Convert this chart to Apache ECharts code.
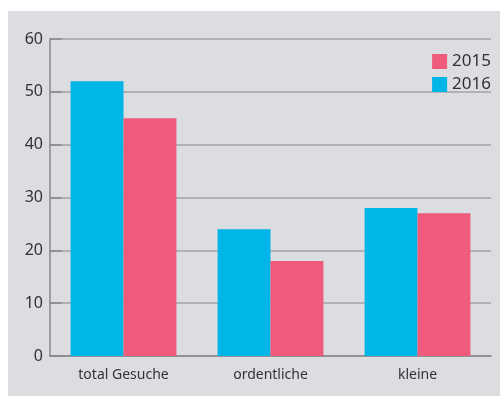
<!DOCTYPE html>
<html>
<head>
<meta charset="utf-8">
<script src="https://cdn.jsdelivr.net/npm/echarts@6/dist/echarts.min.js"></script>
<style>
  html, body { margin: 0; padding: 0; background: #ffffff; }
  #chart { position: absolute; left: 8px; top: 11px; width: 492px; height: 385px; background: #dcdde0; }
</style>
</head>
<body>
<div id="chart"></div>
<script>
// Chart data
const categories = ['total Gesuche', 'ordentliche', 'kleine'];
const values2016 = [52, 24, 28];
const values2015 = [45, 18, 27];
const legendOrder = ['2015', '2016'];

const FONT = 'Noto Sans';
const BLUE = '#00b5e8';
const PINK = '#f05a7b';

const chart = echarts.init(document.getElementById('chart'));

chart.setOption({
    animation: false,
    textStyle: { fontFamily: FONT },
    grid: { left: 42, top: 28, right: 9, bottom: 40, containLabel: false },
    legend: {
        data: legendOrder,
        orient: 'vertical',
        icon: 'rect',
        right: 4,
        top: 37,
        itemWidth: 15,
        itemHeight: 15,
        itemGap: 6,
        textStyle: { fontSize: 17, color: '#333', fontFamily: FONT }
    },
    xAxis: {
        type: 'category',
        data: categories,
        axisLine: { lineStyle: { color: '#888', width: 1.5 } },
        axisTick: { inside: true, length: 7, lineStyle: { color: '#888' } },
        axisLabel: { fontSize: 14, color: '#333', margin: 12, fontFamily: FONT }
    },
    yAxis: {
        type: 'value',
        min: 0,
        max: 60,
        interval: 10,
        axisLine: { show: true, lineStyle: { color: '#888', width: 1.5 } },
        axisTick: { show: true, inside: true, length: 12, lineStyle: { color: '#888', width: 1.5 } },
        splitLine: { lineStyle: { color: '#a3a3a5', width: 1.5 } },
        axisLabel: { fontSize: 16, color: '#333', margin: 7, fontFamily: FONT }
    },
    series: [
        {
            name: '2016',
            type: 'bar',
            data: values2016,
            itemStyle: { color: BLUE },
            barGap: 0,
            barCategoryGap: '28%'
        },
        {
            name: '2015',
            type: 'bar',
            data: values2015,
            itemStyle: { color: PINK },
            barGap: 0,
            barCategoryGap: '28%'
        }
    ]
});
</script>
</body>
</html>
